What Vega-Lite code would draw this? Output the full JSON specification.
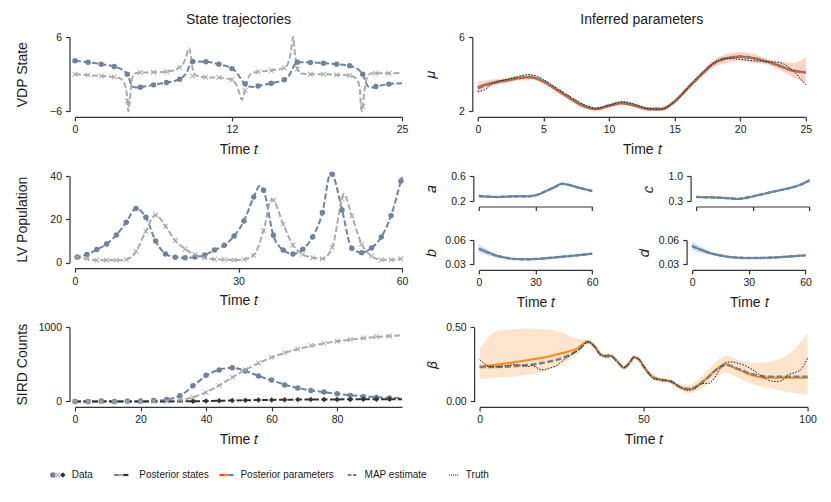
{
"$schema":"https://vega.github.io/schema/vega-lite/v6.json",
"background":"white",
"padding":{"left":15,"top":13,"right":10,"bottom":5},
"config":{
 "font":"Liberation Sans",
 "view":{"stroke":null},
 "axis":{"grid":false,"domainColor":"#333333","domainWidth":1.2,"tickColor":"#333333","tickWidth":1.2,"tickSize":4,"labelFontSize":10.5,"labelColor":"#1a1a1a","labelPadding":4,"titleFontSize":14,"titleFontWeight":"normal","titleColor":"#1a1a1a","offset":5.5,"labelFlush":false,"labelOverlap":false},
 "axisX":{"titlePadding":7},
 "title":{"fontSize":14,"fontWeight":"normal","color":"#1a1a1a","frame":"group","anchor":"middle","offset":5}
},
"datasets":{
 "vdp_obs":[
  {"t":0,"x1":2.16,"x2":0.0},{"t":1,"x1":1.94,"x2":-0.15},{"t":2,"x1":1.62,"x2":-0.3},{"t":3,"x1":1.24,"x2":-0.45},{"t":4,"x1":0.0,"x2":-4.3},
  {"t":5,"x1":-2.1,"x2":0.27},{"t":6,"x1":-1.72,"x2":0.3},{"t":7,"x1":-1.35,"x2":0.4},{"t":8,"x1":-0.8,"x2":1.1},{"t":9,"x1":2.05,"x2":-0.3},
  {"t":10,"x1":2.0,"x2":-0.5},{"t":11,"x1":1.6,"x2":-0.55},{"t":12,"x1":0.9,"x2":-0.9},{"t":13,"x1":-1.56,"x2":-2.6},{"t":14,"x1":-1.9,"x2":0.38},
  {"t":15,"x1":-1.45,"x2":0.6},{"t":16,"x1":-0.9,"x2":1.0},{"t":17,"x1":1.94,"x2":0.85},{"t":18,"x1":1.9,"x2":0.0},{"t":19,"x1":1.78,"x2":0.0},
  {"t":20,"x1":1.6,"x2":-0.1},{"t":21,"x1":1.35,"x2":-0.2},{"t":22,"x1":0.0,"x2":-5.2},{"t":23,"x1":-2.0,"x2":0.15},{"t":24,"x1":-1.6,"x2":0.15}
 ],
 "vdp_line":[
  {"s":"x1","t":0,"v":2.16},{"s":"x1","t":1,"v":1.94},{"s":"x1","t":2,"v":1.62},{"s":"x1","t":3,"v":1.24},{"s":"x1","t":3.5,"v":0.85},{"s":"x1","t":3.8,"v":0.45},{"s":"x1","t":4,"v":0.0},{"s":"x1","t":4.15,"v":-0.8},{"s":"x1","t":4.3,"v":-1.6},{"s":"x1","t":4.45,"v":-2.05},{"s":"x1","t":4.7,"v":-2.15},{"s":"x1","t":5,"v":-2.1},{"s":"x1","t":6,"v":-1.72},{"s":"x1","t":7,"v":-1.35},{"s":"x1","t":8,"v":-0.8},{"s":"x1","t":8.3,"v":-0.35},{"s":"x1","t":8.55,"v":0.3},{"s":"x1","t":8.72,"v":1.2},{"s":"x1","t":8.87,"v":1.85},{"s":"x1","t":9,"v":2.05},{"s":"x1","t":10,"v":2.0},{"s":"x1","t":11,"v":1.6},{"s":"x1","t":12,"v":0.9},{"s":"x1","t":12.35,"v":0.3},{"s":"x1","t":12.6,"v":-0.5},{"s":"x1","t":12.8,"v":-1.1},{"s":"x1","t":13,"v":-1.56},{"s":"x1","t":13.3,"v":-2.0},{"s":"x1","t":13.6,"v":-2.05},{"s":"x1","t":14,"v":-1.9},{"s":"x1","t":15,"v":-1.45},{"s":"x1","t":16,"v":-0.9},{"s":"x1","t":16.3,"v":-0.45},{"s":"x1","t":16.5,"v":0.3},{"s":"x1","t":16.7,"v":1.2},{"s":"x1","t":16.87,"v":1.75},{"s":"x1","t":17,"v":1.94},{"s":"x1","t":18,"v":1.9},{"s":"x1","t":19,"v":1.78},{"s":"x1","t":20,"v":1.6},{"s":"x1","t":21,"v":1.35},{"s":"x1","t":21.5,"v":0.95},{"s":"x1","t":21.8,"v":0.5},{"s":"x1","t":22,"v":0.0},{"s":"x1","t":22.15,"v":-0.8},{"s":"x1","t":22.3,"v":-1.6},{"s":"x1","t":22.45,"v":-2.05},{"s":"x1","t":22.7,"v":-2.15},{"s":"x1","t":23,"v":-2.0},{"s":"x1","t":24,"v":-1.6},{"s":"x1","t":25,"v":-1.45},
  {"s":"x2","t":0,"v":0.0},{"s":"x2","t":1,"v":-0.15},{"s":"x2","t":2,"v":-0.3},{"s":"x2","t":3,"v":-0.45},{"s":"x2","t":3.5,"v":-0.75},{"s":"x2","t":3.8,"v":-1.6},{"s":"x2","t":3.95,"v":-3.0},{"s":"x2","t":4.08,"v":-6.0},{"s":"x2","t":4.2,"v":-4.0},{"s":"x2","t":4.32,"v":-1.4},{"s":"x2","t":4.5,"v":0.05},{"s":"x2","t":5,"v":0.27},{"s":"x2","t":6,"v":0.3},{"s":"x2","t":7,"v":0.4},{"s":"x2","t":8,"v":1.1},{"s":"x2","t":8.3,"v":1.8},{"s":"x2","t":8.5,"v":2.8},{"s":"x2","t":8.72,"v":4.2},{"s":"x2","t":8.87,"v":2.8},{"s":"x2","t":9.0,"v":0.8},{"s":"x2","t":9.2,"v":-0.15},{"s":"x2","t":10,"v":-0.5},{"s":"x2","t":11,"v":-0.55},{"s":"x2","t":12,"v":-0.9},{"s":"x2","t":12.35,"v":-1.8},{"s":"x2","t":12.6,"v":-3.2},{"s":"x2","t":12.76,"v":-4.15},{"s":"x2","t":12.9,"v":-3.4},{"s":"x2","t":13,"v":-2.6},{"s":"x2","t":13.2,"v":-0.9},{"s":"x2","t":13.5,"v":0.15},{"s":"x2","t":14,"v":0.38},{"s":"x2","t":15,"v":0.6},{"s":"x2","t":16,"v":1.0},{"s":"x2","t":16.3,"v":1.8},{"s":"x2","t":16.5,"v":3.6},{"s":"x2","t":16.68,"v":6.0},{"s":"x2","t":16.82,"v":3.2},{"s":"x2","t":17,"v":0.85},{"s":"x2","t":17.3,"v":0.1},{"s":"x2","t":18,"v":0.0},{"s":"x2","t":19,"v":0.0},{"s":"x2","t":20,"v":-0.1},{"s":"x2","t":21,"v":-0.2},{"s":"x2","t":21.5,"v":-0.7},{"s":"x2","t":21.75,"v":-2.0},{"s":"x2","t":21.92,"v":-6.0},{"s":"x2","t":22,"v":-5.2},{"s":"x2","t":22.15,"v":-2.5},{"s":"x2","t":22.35,"v":-0.4},{"s":"x2","t":22.6,"v":0.1},{"s":"x2","t":23,"v":0.15},{"s":"x2","t":24,"v":0.15},{"s":"x2","t":25,"v":0.2}
 ],
 "lv_obs":[
  {"t":0.4,"prey":2.6,"pred":2.5},{"t":2.2,"prey":3.8,"pred":1.8},{"t":4.0,"prey":6.0,"pred":1.1},{"t":5.8,"prey":8.6,"pred":1.1},{"t":7.6,"prey":12.8,"pred":1.1},{"t":9.4,"prey":18.6,"pred":1.4},{"t":11.2,"prey":25.0,"pred":5.2},{"t":13.0,"prey":20.9,"pred":14.5},{"t":14.8,"prey":10.0,"pred":22.0},{"t":16.6,"prey":4.0,"pred":16.8},{"t":18.4,"prey":2.5,"pred":10.2},{"t":20.2,"prey":2.2,"pred":6.3},{"t":22.0,"prey":2.6,"pred":3.7},{"t":23.8,"prey":3.5,"pred":2.2},{"t":25.6,"prey":5.8,"pred":1.5},{"t":27.4,"prey":8.0,"pred":1.4},{"t":29.2,"prey":12.3,"pred":1.2},{"t":31.0,"prey":19.2,"pred":1.5},{"t":32.8,"prey":30.3,"pred":3.4},{"t":34.6,"prey":33.4,"pred":14.8},{"t":36.4,"prey":12.6,"pred":28.8},{"t":38.2,"prey":5.8,"pred":17.8},{"t":40.0,"prey":4.0,"pred":8.0},{"t":41.8,"prey":6.2,"pred":3.8},{"t":43.6,"prey":11.8,"pred":2.2},{"t":45.4,"prey":23.1,"pred":1.8},{"t":47.2,"prey":40.8,"pred":7.0},{"t":49.0,"prey":24.3,"pred":29.5},{"t":50.8,"prey":6.6,"pred":21.6},{"t":52.6,"prey":4.6,"pred":8.5},{"t":54.4,"prey":6.8,"pred":3.0},{"t":56.2,"prey":11.8,"pred":1.3},{"t":58.0,"prey":21.7,"pred":1.3},{"t":59.8,"prey":37.7,"pred":1.8}
 ],
 "lv_line":[
  {"s":"prey","t":0,"v":2.5},{"s":"prey","t":0.4,"v":2.6},{"s":"prey","t":2.2,"v":3.8},{"s":"prey","t":4.0,"v":6.0},{"s":"prey","t":5.8,"v":8.6},{"s":"prey","t":7.6,"v":12.8},{"s":"prey","t":9.4,"v":18.6},{"s":"prey","t":11.2,"v":25.0},{"s":"prey","t":13.0,"v":20.9},{"s":"prey","t":14.8,"v":10.0},{"s":"prey","t":16.6,"v":4.0},{"s":"prey","t":18.4,"v":2.5},{"s":"prey","t":20.2,"v":2.2},{"s":"prey","t":22.0,"v":2.6},{"s":"prey","t":23.8,"v":3.5},{"s":"prey","t":25.6,"v":5.8},{"s":"prey","t":27.4,"v":8.0},{"s":"prey","t":29.2,"v":12.3},{"s":"prey","t":31.0,"v":19.2},{"s":"prey","t":32.8,"v":30.3},{"s":"prey","t":33.9,"v":35.4},{"s":"prey","t":34.6,"v":33.4},{"s":"prey","t":36.4,"v":12.6},{"s":"prey","t":38.2,"v":5.8},{"s":"prey","t":40.0,"v":4.0},{"s":"prey","t":41.8,"v":6.2},{"s":"prey","t":43.6,"v":11.8},{"s":"prey","t":45.4,"v":23.1},{"s":"prey","t":46.9,"v":41.2},{"s":"prey","t":47.2,"v":40.8},{"s":"prey","t":49.0,"v":24.3},{"s":"prey","t":50.8,"v":6.6},{"s":"prey","t":52.6,"v":4.6},{"s":"prey","t":54.4,"v":6.8},{"s":"prey","t":56.2,"v":11.8},{"s":"prey","t":58.0,"v":21.7},{"s":"prey","t":59.8,"v":37.7},{"s":"prey","t":60,"v":39.5},
  {"s":"pred","t":0,"v":2.6},{"s":"pred","t":0.4,"v":2.5},{"s":"pred","t":2.2,"v":1.8},{"s":"pred","t":4.0,"v":1.1},{"s":"pred","t":5.8,"v":1.1},{"s":"pred","t":7.6,"v":1.1},{"s":"pred","t":9.4,"v":1.4},{"s":"pred","t":11.2,"v":5.2},{"s":"pred","t":13.0,"v":14.5},{"s":"pred","t":14.8,"v":22.0},{"s":"pred","t":16.6,"v":16.8},{"s":"pred","t":18.4,"v":10.2},{"s":"pred","t":20.2,"v":6.3},{"s":"pred","t":22.0,"v":3.7},{"s":"pred","t":23.8,"v":2.2},{"s":"pred","t":25.6,"v":1.5},{"s":"pred","t":27.4,"v":1.4},{"s":"pred","t":29.2,"v":1.2},{"s":"pred","t":31.0,"v":1.5},{"s":"pred","t":32.8,"v":3.4},{"s":"pred","t":34.6,"v":14.8},{"s":"pred","t":36.1,"v":29.3},{"s":"pred","t":36.4,"v":28.8},{"s":"pred","t":38.2,"v":17.8},{"s":"pred","t":40.0,"v":8.0},{"s":"pred","t":41.8,"v":3.8},{"s":"pred","t":43.6,"v":2.2},{"s":"pred","t":45.4,"v":1.8},{"s":"pred","t":47.2,"v":7.0},{"s":"pred","t":49.0,"v":29.5},{"s":"pred","t":49.3,"v":31.8},{"s":"pred","t":50.8,"v":21.6},{"s":"pred","t":52.6,"v":8.5},{"s":"pred","t":54.4,"v":3.0},{"s":"pred","t":56.2,"v":1.3},{"s":"pred","t":58.0,"v":1.3},{"s":"pred","t":59.8,"v":1.8},{"s":"pred","t":60,"v":2.0}
 ],
 "sird_obs":[
  {"t":0,"I":0,"R":0,"D":null},{"t":4,"I":0,"R":0,"D":null},{"t":8,"I":5,"R":0,"D":null},{"t":12,"I":0,"R":0,"D":null},{"t":16,"I":5,"R":0,"D":null},{"t":20,"I":5,"R":0,"D":null},{"t":24,"I":13,"R":0,"D":null},{"t":28,"I":27,"R":3,"D":null},{"t":32,"I":76,"R":20,"D":null},{"t":36,"I":210,"R":54,"D":1},{"t":40,"I":350,"R":121,"D":4},{"t":44,"I":421,"R":215,"D":8},{"t":48,"I":453,"R":323,"D":12},{"t":52,"I":408,"R":426,"D":15},{"t":56,"I":341,"R":516,"D":18},{"t":60,"I":287,"R":592,"D":19},{"t":64,"I":220,"R":655,"D":21},{"t":68,"I":179,"R":704,"D":24},{"t":72,"I":148,"R":749,"D":25},{"t":76,"I":126,"R":780,"D":26},{"t":80,"I":103,"R":807,"D":27},{"t":84,"I":81,"R":830,"D":27},{"t":88,"I":63,"R":852,"D":28},{"t":92,"I":54,"R":870,"D":29},{"t":96,"I":45,"R":879,"D":29}
 ],
 "sird_line":[
  {"s":"I","t":0,"v":0},{"s":"I","t":4,"v":0},{"s":"I","t":8,"v":1},{"s":"I","t":12,"v":1},{"s":"I","t":16,"v":2},{"s":"I","t":20,"v":3},{"s":"I","t":24,"v":8},{"s":"I","t":28,"v":25},{"s":"I","t":32,"v":75},{"s":"I","t":36,"v":205},{"s":"I","t":40,"v":345},{"s":"I","t":44,"v":425},{"s":"I","t":48,"v":452},{"s":"I","t":52,"v":410},{"s":"I","t":56,"v":343},{"s":"I","t":60,"v":283},{"s":"I","t":64,"v":225},{"s":"I","t":68,"v":180},{"s":"I","t":72,"v":148},{"s":"I","t":76,"v":124},{"s":"I","t":80,"v":103},{"s":"I","t":84,"v":84},{"s":"I","t":88,"v":68},{"s":"I","t":92,"v":56},{"s":"I","t":96,"v":47},{"s":"I","t":99.8,"v":40},
  {"s":"R","t":0,"v":0},{"s":"R","t":20,"v":0},{"s":"R","t":28,"v":3},{"s":"R","t":32,"v":18},{"s":"R","t":36,"v":55},{"s":"R","t":40,"v":122},{"s":"R","t":44,"v":215},{"s":"R","t":48,"v":322},{"s":"R","t":52,"v":425},{"s":"R","t":56,"v":515},{"s":"R","t":60,"v":590},{"s":"R","t":64,"v":653},{"s":"R","t":68,"v":703},{"s":"R","t":72,"v":746},{"s":"R","t":76,"v":780},{"s":"R","t":80,"v":807},{"s":"R","t":84,"v":830},{"s":"R","t":88,"v":850},{"s":"R","t":92,"v":866},{"s":"R","t":96,"v":878},{"s":"R","t":99.8,"v":886},
  {"s":"D","t":0,"v":0},{"s":"D","t":32,"v":0},{"s":"D","t":36,"v":2},{"s":"D","t":40,"v":5},{"s":"D","t":44,"v":8},{"s":"D","t":48,"v":12},{"s":"D","t":52,"v":15},{"s":"D","t":56,"v":18},{"s":"D","t":60,"v":20},{"s":"D","t":64,"v":22},{"s":"D","t":68,"v":24},{"s":"D","t":72,"v":25},{"s":"D","t":76,"v":26},{"s":"D","t":80,"v":27},{"s":"D","t":84,"v":27.5},{"s":"D","t":88,"v":28},{"s":"D","t":92,"v":28.5},{"s":"D","t":96,"v":29},{"s":"D","t":99.8,"v":29}
 ],
 "mu":[
  {"t":0,"m":3.30,"lo":3.0,"hi":3.6,"map":3.25},{"t":1,"m":3.52,"lo":3.35,"hi":3.7,"map":3.5},{"t":2,"m":3.64,"lo":3.5,"hi":3.78,"map":3.64},{"t":3,"m":3.78,"lo":3.65,"hi":3.92,"map":3.78},{"t":4,"m":3.84,"lo":3.72,"hi":3.97,"map":3.85},{"t":5,"m":3.6,"lo":3.48,"hi":3.72,"map":3.62},{"t":6,"m":3.16,"lo":3.03,"hi":3.3,"map":3.2},{"t":7,"m":2.71,"lo":2.58,"hi":2.84,"map":2.75},{"t":8,"m":2.30,"lo":2.18,"hi":2.42,"map":2.33},{"t":9,"m":2.12,"lo":2.02,"hi":2.24,"map":2.14},{"t":10,"m":2.3,"lo":2.2,"hi":2.42,"map":2.31},{"t":11,"m":2.44,"lo":2.33,"hi":2.56,"map":2.46},{"t":12,"m":2.3,"lo":2.2,"hi":2.42,"map":2.32},{"t":13,"m":2.12,"lo":2.02,"hi":2.24,"map":2.13},{"t":14,"m":2.12,"lo":2.02,"hi":2.24,"map":2.13},{"t":15,"m":2.53,"lo":2.42,"hi":2.65,"map":2.53},{"t":16,"m":3.25,"lo":3.12,"hi":3.38,"map":3.25},{"t":17,"m":3.96,"lo":3.82,"hi":4.1,"map":3.96},{"t":18,"m":4.59,"lo":4.38,"hi":4.78,"map":4.58},{"t":19,"m":4.86,"lo":4.62,"hi":5.08,"map":4.86},{"t":20,"m":4.95,"lo":4.7,"hi":5.2,"map":4.94},{"t":21,"m":4.86,"lo":4.62,"hi":5.1,"map":4.86},{"t":22,"m":4.68,"lo":4.52,"hi":4.84,"map":4.68},{"t":23,"m":4.45,"lo":4.22,"hi":4.7,"map":4.45},{"t":24,"m":4.2,"lo":3.85,"hi":4.6,"map":4.2},{"t":25,"m":4.1,"lo":3.5,"hi":4.9,"map":4.1}
 ],
 "mu_truth":[
  {"t":0,"v":3.07},{"t":0.5,"v":3.15},{"t":1,"v":3.42},{"t":1.5,"v":3.6},{"t":2,"v":3.68},{"t":3,"v":3.86},{"t":3.8,"v":3.98},{"t":4.5,"v":3.9},{"t":5,"v":3.72},{"t":6,"v":3.25},{"t":7,"v":2.8},{"t":8,"v":2.4},{"t":9,"v":2.17},{"t":10,"v":2.33},{"t":11,"v":2.52},{"t":12,"v":2.38},{"t":13,"v":2.15},{"t":14,"v":2.12},{"t":15,"v":2.53},{"t":16,"v":3.25},{"t":17,"v":3.98},{"t":17.8,"v":4.5},{"t":18.5,"v":4.8},{"t":19,"v":4.85},{"t":20,"v":4.8},{"t":21,"v":4.72},{"t":22,"v":4.68},{"t":22.7,"v":4.65},{"t":23.3,"v":4.55},{"t":24,"v":4.2},{"t":25,"v":3.42}
 ],
 "pa":[
  {"t":0,"m":0.28,"lo":0.25,"hi":0.31},{"t":5,"m":0.27,"lo":0.255,"hi":0.285},{"t":10,"m":0.265,"lo":0.253,"hi":0.277},{"t":15,"m":0.27,"lo":0.258,"hi":0.282},{"t":20,"m":0.275,"lo":0.263,"hi":0.287},{"t":25,"m":0.275,"lo":0.263,"hi":0.287},{"t":28,"m":0.28,"lo":0.268,"hi":0.292},{"t":32,"m":0.31,"lo":0.298,"hi":0.322},{"t":36,"m":0.365,"lo":0.353,"hi":0.377},{"t":40,"m":0.42,"lo":0.408,"hi":0.432},{"t":44,"m":0.475,"lo":0.463,"hi":0.487},{"t":48,"m":0.455,"lo":0.443,"hi":0.467},{"t":52,"m":0.42,"lo":0.408,"hi":0.432},{"t":56,"m":0.39,"lo":0.378,"hi":0.402},{"t":60,"m":0.36,"lo":0.345,"hi":0.375}
 ],
 "pc":[
  {"t":0,"m":0.412,"lo":0.385,"hi":0.44},{"t":5,"m":0.405,"lo":0.385,"hi":0.425},{"t":10,"m":0.4,"lo":0.382,"hi":0.418},{"t":15,"m":0.385,"lo":0.367,"hi":0.403},{"t":20,"m":0.365,"lo":0.347,"hi":0.383},{"t":22,"m":0.358,"lo":0.34,"hi":0.376},{"t":25,"m":0.375,"lo":0.357,"hi":0.393},{"t":30,"m":0.43,"lo":0.412,"hi":0.448},{"t":35,"m":0.49,"lo":0.472,"hi":0.508},{"t":40,"m":0.55,"lo":0.532,"hi":0.568},{"t":45,"m":0.61,"lo":0.59,"hi":0.63},{"t":50,"m":0.67,"lo":0.648,"hi":0.692},{"t":55,"m":0.75,"lo":0.725,"hi":0.775},{"t":60,"m":0.88,"lo":0.83,"hi":0.93}
 ],
 "pb":[
  {"t":0,"m":0.0493,"lo":0.044,"hi":0.055},{"t":5,"m":0.0444,"lo":0.041,"hi":0.048},{"t":10,"m":0.0403,"lo":0.0385,"hi":0.042},{"t":15,"m":0.0378,"lo":0.0368,"hi":0.0388},{"t":20,"m":0.0365,"lo":0.0357,"hi":0.0373},{"t":25,"m":0.0363,"lo":0.0356,"hi":0.037},{"t":30,"m":0.0366,"lo":0.0359,"hi":0.0373},{"t":40,"m":0.0386,"lo":0.0379,"hi":0.0393},{"t":50,"m":0.0407,"lo":0.04,"hi":0.0414},{"t":60,"m":0.0432,"lo":0.0422,"hi":0.0442}
 ],
 "pd":[
  {"t":0,"m":0.0526,"lo":0.047,"hi":0.058},{"t":5,"m":0.0477,"lo":0.044,"hi":0.0515},{"t":10,"m":0.0436,"lo":0.0415,"hi":0.0457},{"t":15,"m":0.041,"lo":0.0398,"hi":0.0422},{"t":20,"m":0.039,"lo":0.0382,"hi":0.0398},{"t":25,"m":0.0382,"lo":0.0375,"hi":0.0389},{"t":30,"m":0.0378,"lo":0.0371,"hi":0.0385},{"t":40,"m":0.0382,"lo":0.0375,"hi":0.0389},{"t":50,"m":0.0395,"lo":0.0388,"hi":0.0402},{"t":60,"m":0.0411,"lo":0.0401,"hi":0.0421}
 ],
 "beta":[
  {"t":0,"m":0.234,"lo":0.15,"hi":0.355,"map":0.232},{"t":5,"m":0.245,"lo":0.16,"hi":0.47,"map":0.232},{"t":10,"m":0.261,"lo":0.165,"hi":0.485,"map":0.236},{"t":15,"m":0.278,"lo":0.18,"hi":0.49,"map":0.245},{"t":20,"m":0.297,"lo":0.205,"hi":0.485,"map":0.262},{"t":25,"m":0.324,"lo":0.25,"hi":0.465,"map":0.29},{"t":30,"m":0.358,"lo":0.32,"hi":0.42,"map":0.345},{"t":33,"m":0.403,"lo":0.385,"hi":0.415,"map":0.4},{"t":35,"m":0.37,"lo":0.355,"hi":0.385,"map":0.37},{"t":37,"m":0.313,"lo":0.3,"hi":0.327,"map":0.313},{"t":39,"m":0.302,"lo":0.29,"hi":0.315,"map":0.302},{"t":40,"m":0.306,"lo":0.293,"hi":0.318,"map":0.306},{"t":42,"m":0.268,"lo":0.255,"hi":0.28,"map":0.268},{"t":44,"m":0.227,"lo":0.215,"hi":0.24,"map":0.227},{"t":46,"m":0.268,"lo":0.255,"hi":0.28,"map":0.268},{"t":47,"m":0.297,"lo":0.285,"hi":0.31,"map":0.297},{"t":48.5,"m":0.284,"lo":0.27,"hi":0.298,"map":0.284},{"t":50,"m":0.234,"lo":0.22,"hi":0.248,"map":0.234},{"t":52,"m":0.178,"lo":0.165,"hi":0.192,"map":0.178},{"t":55,"m":0.144,"lo":0.13,"hi":0.16,"map":0.144},{"t":58,"m":0.137,"lo":0.12,"hi":0.155,"map":0.137},{"t":60,"m":0.11,"lo":0.09,"hi":0.13,"map":0.11},{"t":62,"m":0.088,"lo":0.065,"hi":0.11,"map":0.088},{"t":64,"m":0.083,"lo":0.055,"hi":0.11,"map":0.083},{"t":66,"m":0.099,"lo":0.065,"hi":0.135,"map":0.099},{"t":68,"m":0.133,"lo":0.09,"hi":0.175,"map":0.13},{"t":70,"m":0.171,"lo":0.125,"hi":0.22,"map":0.168},{"t":72,"m":0.212,"lo":0.16,"hi":0.265,"map":0.21},{"t":74,"m":0.241,"lo":0.19,"hi":0.3,"map":0.238},{"t":75,"m":0.25,"lo":0.195,"hi":0.31,"map":0.245},{"t":76,"m":0.245,"lo":0.19,"hi":0.305,"map":0.242},{"t":78,"m":0.223,"lo":0.165,"hi":0.285,"map":0.225},{"t":80,"m":0.205,"lo":0.145,"hi":0.27,"map":0.21},{"t":82,"m":0.185,"lo":0.125,"hi":0.262,"map":0.19},{"t":84,"m":0.171,"lo":0.11,"hi":0.26,"map":0.178},{"t":86,"m":0.162,"lo":0.1,"hi":0.26,"map":0.17},{"t":90,"m":0.16,"lo":0.08,"hi":0.275,"map":0.165},{"t":95,"m":0.16,"lo":0.06,"hi":0.33,"map":0.165},{"t":100,"m":0.16,"lo":0.045,"hi":0.46,"map":0.165}
 ],
 "beta_truth":[
  {"t":0,"v":0.28},{"t":1,"v":0.262},{"t":2,"v":0.245},{"t":3,"v":0.235},{"t":5,"v":0.232},{"t":7,"v":0.236},{"t":9,"v":0.242},{"t":11,"v":0.248},{"t":13,"v":0.24},{"t":15,"v":0.235},{"t":16,"v":0.242},{"t":17,"v":0.232},{"t":18,"v":0.218},{"t":19,"v":0.212},{"t":20,"v":0.215},{"t":21,"v":0.222},{"t":22,"v":0.228},{"t":23,"v":0.235},{"t":25,"v":0.268},{"t":27,"v":0.3},{"t":29,"v":0.33},{"t":31,"v":0.36},{"t":33,"v":0.4},{"t":35,"v":0.372},{"t":37,"v":0.31},{"t":38,"v":0.305},{"t":39,"v":0.315},{"t":40,"v":0.305},{"t":42,"v":0.265},{"t":44,"v":0.226},{"t":46,"v":0.27},{"t":47,"v":0.297},{"t":48.5,"v":0.285},{"t":50,"v":0.24},{"t":52,"v":0.175},{"t":53,"v":0.15},{"t":55,"v":0.15},{"t":57,"v":0.14},{"t":59,"v":0.128},{"t":61,"v":0.1},{"t":63,"v":0.075},{"t":65,"v":0.078},{"t":66,"v":0.09},{"t":67,"v":0.11},{"t":68,"v":0.12},{"t":70,"v":0.122},{"t":71,"v":0.14},{"t":72,"v":0.17},{"t":73,"v":0.21},{"t":74,"v":0.245},{"t":75,"v":0.262},{"t":77,"v":0.265},{"t":79,"v":0.255},{"t":81,"v":0.24},{"t":83,"v":0.215},{"t":85,"v":0.185},{"t":87,"v":0.155},{"t":89,"v":0.136},{"t":91,"v":0.133},{"t":92,"v":0.14},{"t":93,"v":0.155},{"t":94,"v":0.178},{"t":96,"v":0.193},{"t":98,"v":0.215},{"t":99,"v":0.25},{"t":100,"v":0.29}
 ],
 "lg_data":[{"k":"1","s":"x1"},{"k":"2","s":"x2"},{"k":"3","s":"D"}],
 "lg_states":[{"k":"1","s":"x1"},{"k":"2","s":"x2"},{"k":"3","s":"D"}],
 "lg_params":[{"k":"1","s":"mu"},{"k":"2","s":"beta"},{"k":"3","s":"par"}],
 "lg_line":[{"k":"1"},{"k":"2"}],
 "lg_labels":[{"e":"Data","k":"3","label":"Data"},{"e":"Posterior states","k":"3","label":"Posterior states"},{"e":"Posterior parameters","k":"3","label":"Posterior parameters"},{"e":"MAP estimate","k":"2","label":"MAP estimate"},{"e":"Truth","k":"2","label":"Truth"}]
},
"vconcat":[
 {"vconcat":[
  {"hconcat":[
   {"width":327,"height":74.4,"title":{"text":"State trajectories"},
    "layer":[
     {"data":{"name":"vdp_line"},"mark":{"type":"line","strokeWidth":2,"strokeDash":[6,2.5],"interpolate":"monotone"},
      "encoding":{
       "x":{"field":"t","type":"quantitative","scale":{"domain":[0,25],"nice":false},"axis":{"values":[0,12,25],"title":"Time 𝑡"}},
       "y":{"field":"v","type":"quantitative","scale":{"domain":[-6,6],"nice":false,"zero":false},"axis":{"values":[-6,0,6],"title":"VDP State","titleX":-40}},
       "color":{"field":"s","type":"nominal","legend":null,"scale":{"domain":["x1","x2","prey","pred","I","R","D","mu","beta","par"],"range":["#6f8399","#ababab","#6f8399","#ababab","#6f8399","#ababab","#333333","#ff4500","#ff8c1a","#3a8fe6"]}}}},
     {"data":{"name":"vdp_obs"},"transform":[{"fold":["x1","x2"],"as":["s","v"]}],"mark":{"type":"point","filled":true,"opacity":1,"size":30,"strokeWidth":0},
      "encoding":{
       "x":{"field":"t","type":"quantitative"},
       "y":{"field":"v","type":"quantitative"},
       "color":{"field":"s","type":"nominal","legend":null,"scale":{"domain":["x1","x2","prey","pred","I","R","D","mu","beta","par"],"range":["#6f8399","#ababab","#6f8399","#ababab","#6f8399","#ababab","#333333","#ff4500","#ff8c1a","#3a8fe6"]}},
       "shape":{"field":"s","type":"nominal","legend":null,"scale":{"domain":["x1","x2","prey","pred","I","R","D"],"range":["circle","M-1,-0.75L-0.75,-1L0,-0.25L0.75,-1L1,-0.75L0.25,0L1,0.75L0.75,1L0,0.25L-0.75,1L-1,0.75L-0.25,0Z","circle","M-1,-0.75L-0.75,-1L0,-0.25L0.75,-1L1,-0.75L0.25,0L1,0.75L0.75,1L0,0.25L-0.75,1L-1,0.75L-0.25,0Z","circle","M-1,-0.75L-0.75,-1L0,-0.25L0.75,-1L1,-0.75L0.25,0L1,0.75L0.75,1L0,0.25L-0.75,1L-1,0.75L-0.25,0Z","diamond"]}}}}
    ]},
   {"width":328,"height":74.4,"title":{"text":"Inferred parameters"},
    "layer":[
     {"data":{"name":"mu"},"mark":{"type":"area","color":"#fdd3c5","opacity":1,"interpolate":"monotone"},
      "encoding":{
       "x":{"field":"t","type":"quantitative","scale":{"domain":[0,25],"nice":false},"axis":{"values":[0,5,10,15,20,25],"title":"Time 𝑡"}},
       "y":{"field":"lo","type":"quantitative","scale":{"domain":[2,6],"nice":false,"zero":false},"axis":{"values":[2,4,6],"title":"𝜇","titleX":-35}},
       "y2":{"field":"hi"}}},
     {"data":{"name":"mu"},"mark":{"type":"line","color":"#ff4500","strokeWidth":2.2,"interpolate":"monotone"},"encoding":{"x":{"field":"t","type":"quantitative"},"y":{"field":"m","type":"quantitative"}}},
     {"data":{"name":"mu"},"mark":{"type":"line","color":"#7f7f7f","strokeWidth":2.8,"strokeDash":[6,2.5],"interpolate":"monotone"},"encoding":{"x":{"field":"t","type":"quantitative"},"y":{"field":"map","type":"quantitative"}}},
     {"data":{"name":"mu_truth"},"mark":{"type":"line","color":"#111111","strokeWidth":1,"strokeDash":[1.5,1.5],"interpolate":"monotone"},"encoding":{"x":{"field":"t","type":"quantitative"},"y":{"field":"v","type":"quantitative"}}}
    ]}
  ],"spacing":14.8},
  {"hconcat":[
   {"width":327,"height":86.6,
    "layer":[
     {"data":{"name":"lv_line"},"mark":{"type":"line","strokeWidth":2,"strokeDash":[6,2.5],"interpolate":"monotone"},
      "encoding":{
       "x":{"field":"t","type":"quantitative","scale":{"domain":[0,60],"nice":false},"axis":{"values":[0,30,60],"title":"Time 𝑡"}},
       "y":{"field":"v","type":"quantitative","scale":{"domain":[0,40],"nice":false,"zero":false},"axis":{"values":[0,20,40],"title":"LV Population","titleX":-40}},
       "color":{"field":"s","type":"nominal","legend":null,"scale":{"domain":["x1","x2","prey","pred","I","R","D","mu","beta","par"],"range":["#6f8399","#ababab","#6f8399","#ababab","#6f8399","#ababab","#333333","#ff4500","#ff8c1a","#3a8fe6"]}}}},
     {"data":{"name":"lv_obs"},"transform":[{"fold":["prey","pred"],"as":["s","v"]}],"mark":{"type":"point","filled":true,"opacity":1,"size":30,"strokeWidth":0},
      "encoding":{
       "x":{"field":"t","type":"quantitative"},
       "y":{"field":"v","type":"quantitative"},
       "color":{"field":"s","type":"nominal","legend":null,"scale":{"domain":["x1","x2","prey","pred","I","R","D","mu","beta","par"],"range":["#6f8399","#ababab","#6f8399","#ababab","#6f8399","#ababab","#333333","#ff4500","#ff8c1a","#3a8fe6"]}},
       "shape":{"field":"s","type":"nominal","legend":null,"scale":{"domain":["x1","x2","prey","pred","I","R","D"],"range":["circle","M-1,-0.75L-0.75,-1L0,-0.25L0.75,-1L1,-0.75L0.25,0L1,0.75L0.75,1L0,0.25L-0.75,1L-1,0.75L-0.25,0Z","circle","M-1,-0.75L-0.75,-1L0,-0.25L0.75,-1L1,-0.75L0.25,0L1,0.75L0.75,1L0,0.25L-0.75,1L-1,0.75L-0.25,0Z","circle","M-1,-0.75L-0.75,-1L0,-0.25L0.75,-1L1,-0.75L0.25,0L1,0.75L0.75,1L0,0.25L-0.75,1L-1,0.75L-0.25,0Z","diamond"]}}}}
    ]},
   {"vconcat":[
    {"hconcat":[
     {"width":113.4,"height":25,
      "layer":[
       {"data":{"name":"pa"},"mark":{"type":"area","color":"#cfe3f8","opacity":1,"interpolate":"monotone"},
        "encoding":{"x":{"field":"t","type":"quantitative","scale":{"domain":[0,60],"nice":false},"axis":{"values":[0,30,60],"labels":false,"title":null}},
         "y":{"field":"lo","type":"quantitative","scale":{"domain":[0.2,0.6],"nice":false,"zero":false},"axis":{"values":[0.2,0.6],"format":".1f","title":"𝑎","titleX":-35}},"y2":{"field":"hi"}}},
       {"data":{"name":"pa"},"mark":{"type":"line","color":"#3a8fe6","strokeWidth":2,"interpolate":"monotone"},"encoding":{"x":{"field":"t","type":"quantitative"},"y":{"field":"m","type":"quantitative"}}},
       {"data":{"name":"pa"},"mark":{"type":"line","color":"#7f7f7f","strokeWidth":2.4,"strokeDash":[5,2],"interpolate":"monotone"},"encoding":{"x":{"field":"t","type":"quantitative"},"y":{"field":"m","type":"quantitative"}}}
      ]},
     {"width":113.4,"height":25,
      "layer":[
       {"data":{"name":"pc"},"mark":{"type":"area","color":"#cfe3f8","opacity":1,"interpolate":"monotone"},
        "encoding":{"x":{"field":"t","type":"quantitative","scale":{"domain":[0,60],"nice":false},"axis":{"values":[0,30,60],"labels":false,"title":null}},
         "y":{"field":"lo","type":"quantitative","scale":{"domain":[0.3,1.0],"nice":false,"zero":false},"axis":{"values":[0.3,1.0],"format":".1f","title":"𝑐","titleX":-35}},"y2":{"field":"hi"}}},
       {"data":{"name":"pc"},"mark":{"type":"line","color":"#3a8fe6","strokeWidth":2,"interpolate":"monotone"},"encoding":{"x":{"field":"t","type":"quantitative"},"y":{"field":"m","type":"quantitative"}}},
       {"data":{"name":"pc"},"mark":{"type":"line","color":"#7f7f7f","strokeWidth":2.4,"strokeDash":[5,2],"interpolate":"monotone"},"encoding":{"x":{"field":"t","type":"quantitative"},"y":{"field":"m","type":"quantitative"}}}
      ]}
    ],"spacing":43.3},
    {"hconcat":[
     {"width":113.4,"height":24.4,
      "layer":[
       {"data":{"name":"pb"},"mark":{"type":"area","color":"#cfe3f8","opacity":1,"interpolate":"monotone"},
        "encoding":{"x":{"field":"t","type":"quantitative","scale":{"domain":[0,60],"nice":false},"axis":{"values":[0,30,60],"title":"Time 𝑡"}},
         "y":{"field":"lo","type":"quantitative","scale":{"domain":[0.03,0.06],"nice":false,"zero":false},"axis":{"values":[0.03,0.06],"format":".2f","title":"𝑏","titleX":-35}},"y2":{"field":"hi"}}},
       {"data":{"name":"pb"},"mark":{"type":"line","color":"#3a8fe6","strokeWidth":2,"interpolate":"monotone"},"encoding":{"x":{"field":"t","type":"quantitative"},"y":{"field":"m","type":"quantitative"}}},
       {"data":{"name":"pb"},"mark":{"type":"line","color":"#7f7f7f","strokeWidth":2.4,"strokeDash":[5,2],"interpolate":"monotone"},"encoding":{"x":{"field":"t","type":"quantitative"},"y":{"field":"m","type":"quantitative"}}}
      ]},
     {"width":113.4,"height":24.4,
      "layer":[
       {"data":{"name":"pd"},"mark":{"type":"area","color":"#cfe3f8","opacity":1,"interpolate":"monotone"},
        "encoding":{"x":{"field":"t","type":"quantitative","scale":{"domain":[0,60],"nice":false},"axis":{"values":[0,30,60],"title":"Time 𝑡"}},
         "y":{"field":"lo","type":"quantitative","scale":{"domain":[0.03,0.06],"nice":false,"zero":false},"axis":{"values":[0.03,0.06],"format":".2f","title":"𝑑","titleX":-35}},"y2":{"field":"hi"}}},
       {"data":{"name":"pd"},"mark":{"type":"line","color":"#3a8fe6","strokeWidth":2,"interpolate":"monotone"},"encoding":{"x":{"field":"t","type":"quantitative"},"y":{"field":"m","type":"quantitative"}}},
       {"data":{"name":"pd"},"mark":{"type":"line","color":"#7f7f7f","strokeWidth":2.4,"strokeDash":[5,2],"interpolate":"monotone"},"encoding":{"x":{"field":"t","type":"quantitative"},"y":{"field":"m","type":"quantitative"}}}
      ]}
    ],"spacing":38.3}
   ],"spacing":23}
  ],"spacing":15.8},
  {"hconcat":[
   {"width":327,"height":74.4,
    "layer":[
     {"data":{"name":"sird_line"},"mark":{"type":"line","strokeWidth":2,"strokeDash":[6,2.5],"interpolate":"monotone"},
      "encoding":{
       "x":{"field":"t","type":"quantitative","scale":{"domain":[0,99.8],"nice":false},"axis":{"values":[0,20,40,60,80],"title":"Time 𝑡"}},
       "y":{"field":"v","type":"quantitative","scale":{"domain":[0,1000],"nice":false,"zero":false},"axis":{"values":[0,500,1000],"format":"d","title":"SIRD Counts","titleX":-40}},
       "color":{"field":"s","type":"nominal","legend":null,"scale":{"domain":["x1","x2","prey","pred","I","R","D","mu","beta","par"],"range":["#6f8399","#ababab","#6f8399","#ababab","#6f8399","#ababab","#333333","#ff4500","#ff8c1a","#3a8fe6"]}}}},
     {"data":{"name":"sird_obs"},"transform":[{"fold":["I","R","D"],"as":["s","v"]}],"mark":{"type":"point","filled":true,"opacity":1,"size":30,"strokeWidth":0},
      "encoding":{
       "x":{"field":"t","type":"quantitative"},
       "y":{"field":"v","type":"quantitative"},
       "color":{"field":"s","type":"nominal","legend":null,"scale":{"domain":["x1","x2","prey","pred","I","R","D","mu","beta","par"],"range":["#6f8399","#ababab","#6f8399","#ababab","#6f8399","#ababab","#333333","#ff4500","#ff8c1a","#3a8fe6"]}},
       "shape":{"field":"s","type":"nominal","legend":null,"scale":{"domain":["x1","x2","prey","pred","I","R","D"],"range":["circle","M-1,-0.75L-0.75,-1L0,-0.25L0.75,-1L1,-0.75L0.25,0L1,0.75L0.75,1L0,0.25L-0.75,1L-1,0.75L-0.25,0Z","circle","M-1,-0.75L-0.75,-1L0,-0.25L0.75,-1L1,-0.75L0.25,0L1,0.75L0.75,1L0,0.25L-0.75,1L-1,0.75L-0.25,0Z","circle","M-1,-0.75L-0.75,-1L0,-0.25L0.75,-1L1,-0.75L0.25,0L1,0.75L0.75,1L0,0.25L-0.75,1L-1,0.75L-0.25,0Z","diamond"]}}}}
    ]},
   {"width":328,"height":74.4,
    "layer":[
     {"data":{"name":"beta"},"mark":{"type":"area","color":"#fde4cc","opacity":1,"interpolate":"monotone"},
      "encoding":{
       "x":{"field":"t","type":"quantitative","scale":{"domain":[0,100],"nice":false},"axis":{"values":[0,50,100],"title":"Time 𝑡"}},
       "y":{"field":"lo","type":"quantitative","scale":{"domain":[0,0.5],"nice":false,"zero":false},"axis":{"values":[0,0.25,0.5],"format":".2f","title":"𝛽","titleX":-35}},
       "y2":{"field":"hi"}}},
     {"data":{"name":"beta"},"mark":{"type":"line","color":"#ff8c1a","strokeWidth":2.2,"interpolate":"monotone"},"encoding":{"x":{"field":"t","type":"quantitative"},"y":{"field":"m","type":"quantitative"}}},
     {"data":{"name":"beta"},"mark":{"type":"line","color":"#7f7f7f","strokeWidth":2.5,"strokeDash":[6,2.5],"interpolate":"monotone"},"encoding":{"x":{"field":"t","type":"quantitative"},"y":{"field":"map","type":"quantitative"}}},
     {"data":{"name":"beta_truth"},"mark":{"type":"line","color":"#111111","strokeWidth":1,"strokeDash":[1.5,1.5],"interpolate":"monotone"},"encoding":{"x":{"field":"t","type":"quantitative"},"y":{"field":"v","type":"quantitative"}}}
    ]}
  ],"spacing":18.6}
 ],"spacing":12},
 {"hconcat":[
  {"width":35.3,"height":10,
   "layer":[
    {"data":{"name":"lg_data"},"mark":{"type":"point","filled":true,"opacity":1,"size":30,"strokeWidth":0},
     "encoding":{
      "x":{"field":"k","type":"nominal","scale":{"type":"point","domain":["1","2","3"],"range":[-24.7,-9.7]},"axis":null},
      "color":{"field":"s","type":"nominal","legend":null,"scale":{"domain":["x1","x2","prey","pred","I","R","D","mu","beta","par"],"range":["#6f8399","#ababab","#6f8399","#ababab","#6f8399","#ababab","#333333","#ff4500","#ff8c1a","#3a8fe6"]}},
      "shape":{"field":"s","type":"nominal","legend":null,"scale":{"domain":["x1","x2","prey","pred","I","R","D"],"range":["circle","M-1,-0.75L-0.75,-1L0,-0.25L0.75,-1L1,-0.75L0.25,0L1,0.75L0.75,1L0,0.25L-0.75,1L-1,0.75L-0.25,0Z","circle","M-1,-0.75L-0.75,-1L0,-0.25L0.75,-1L1,-0.75L0.25,0L1,0.75L0.75,1L0,0.25L-0.75,1L-1,0.75L-0.25,0Z","circle","M-1,-0.75L-0.75,-1L0,-0.25L0.75,-1L1,-0.75L0.25,0L1,0.75L0.75,1L0,0.25L-0.75,1L-1,0.75L-0.25,0Z","diamond"]}}}},
    {"data":{"name":"lg_labels"},"transform":[{"filter":{"field":"e","equal":"Data"}}],"mark":{"type":"text","align":"left","baseline":"middle","dx":9,"font":"Liberation Sans","fontSize":10,"color":"#1a1a1a"},
     "encoding":{"x":{"field":"k","type":"nominal"},"text":{"field":"label"}}}
   ]},
  {"width":106,"height":10,
   "layer":[
    {"data":{"name":"lg_states"},"mark":{"type":"point","filled":false,"opacity":1,"size":25,"strokeWidth":2.2,"shape":"M-1,0L1,0"},
     "encoding":{
      "x":{"field":"k","type":"nominal","scale":{"type":"point","domain":["1","2","3"],"range":[3.2,17.2]},"axis":null},
      "color":{"field":"s","type":"nominal","legend":null,"scale":{"domain":["x1","x2","prey","pred","I","R","D","mu","beta","par"],"range":["#6f8399","#ababab","#6f8399","#ababab","#6f8399","#ababab","#333333","#ff4500","#ff8c1a","#3a8fe6"]}}}},
    {"data":{"name":"lg_labels"},"transform":[{"filter":{"field":"e","equal":"Posterior states"}}],"mark":{"type":"text","align":"left","baseline":"middle","dx":13.5,"font":"Liberation Sans","fontSize":10,"color":"#1a1a1a"},
     "encoding":{"x":{"field":"k","type":"nominal"},"text":{"field":"label"}}}
   ]},
  {"width":125.7,"height":10,
   "layer":[
    {"data":{"name":"lg_params"},"mark":{"type":"point","filled":false,"opacity":1,"size":25,"strokeWidth":2.2,"shape":"M-1,0L1,0"},
     "encoding":{
      "x":{"field":"k","type":"nominal","scale":{"type":"point","domain":["1","2","3"],"range":[2.7,16.3]},"axis":null},
      "color":{"field":"s","type":"nominal","legend":null,"scale":{"domain":["x1","x2","prey","pred","I","R","D","mu","beta","par"],"range":["#6f8399","#ababab","#6f8399","#ababab","#6f8399","#ababab","#333333","#ff4500","#ff8c1a","#3a8fe6"]}}}},
    {"data":{"name":"lg_labels"},"transform":[{"filter":{"field":"e","equal":"Posterior parameters"}}],"mark":{"type":"text","align":"left","baseline":"middle","dx":9.4,"font":"Liberation Sans","fontSize":10,"color":"#1a1a1a"},
     "encoding":{"x":{"field":"k","type":"nominal"},"text":{"field":"label"}}}
   ]},
  {"width":100.6,"height":10,
   "layer":[
    {"data":{"name":"lg_line"},"mark":{"type":"line","color":"#7f7f7f","strokeWidth":2,"strokeDash":[3.6,1.6]},
     "encoding":{"x":{"field":"k","type":"nominal","scale":{"type":"point","domain":["1","2"],"range":[0,19]},"axis":null}}},
    {"data":{"name":"lg_labels"},"transform":[{"filter":{"field":"e","equal":"MAP estimate"}}],"mark":{"type":"text","align":"left","baseline":"middle","dx":7.3,"font":"Liberation Sans","fontSize":10,"color":"#1a1a1a"},
     "encoding":{"x":{"field":"k","type":"nominal"},"text":{"field":"label"}}}
   ]},
  {"width":60,"height":10,
   "layer":[
    {"data":{"name":"lg_line"},"mark":{"type":"line","color":"#111111","strokeWidth":1,"strokeDash":[1,1]},
     "encoding":{"x":{"field":"k","type":"nominal","scale":{"type":"point","domain":["1","2"],"range":[0.3,19.7]},"axis":null}}},
    {"data":{"name":"lg_labels"},"transform":[{"filter":{"field":"e","equal":"Truth"}}],"mark":{"type":"text","align":"left","baseline":"middle","dx":7,"font":"Liberation Sans","fontSize":10,"color":"#1a1a1a"},
     "encoding":{"x":{"field":"k","type":"nominal"},"text":{"field":"label"}}}
   ]}
 ],"spacing":0,"bounds":"flush"}
],
"spacing":23
}
